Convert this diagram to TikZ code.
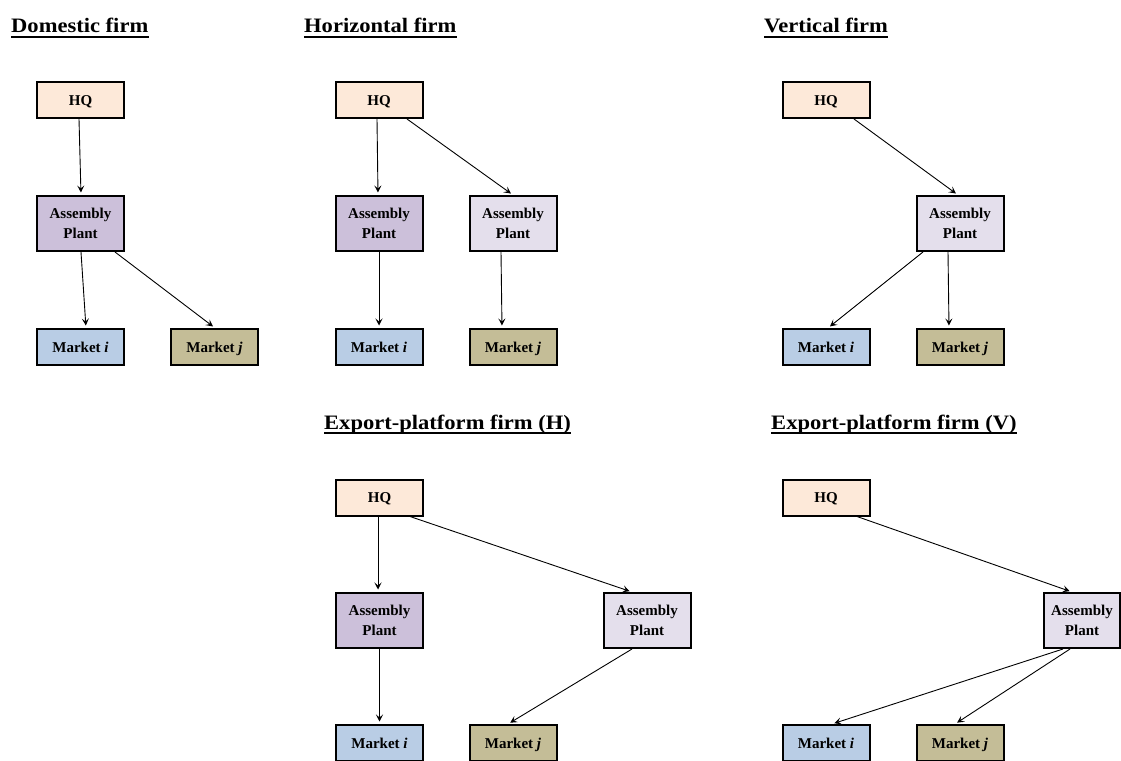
\documentclass[tikz,border=0pt]{standalone}
\usepackage{fontspec}
\setmainfont{Liberation Serif}
\newfontfamily\ttlfont{Liberation Serif}[FakeStretch=1.1]
\usetikzlibrary{arrows.meta}
\definecolor{hqc}{HTML}{FDE9D9}
\definecolor{domc}{HTML}{CCC0DA}
\definecolor{forc}{HTML}{E4DFEC}
\definecolor{mic}{HTML}{B9CDE5}
\definecolor{mjc}{HTML}{C4BD97}
\begin{document}
\begin{tikzpicture}[x=1pt,y=-1pt,
  box/.style={draw, line width=2pt, fill=#1, minimum width=87pt, inner sep=0pt, align=center,
    font=\fontsize{15}{20}\selectfont\bfseries},
  onel/.style={text height=10.3pt, text depth=0pt},
  hqbox/.style={box=hqc, minimum height=36pt, onel},
  dombox/.style={box=domc, minimum height=55pt},
  forbox/.style={box=forc, minimum height=55pt},
  mibox/.style={box=mic, minimum height=36pt, onel},
  mjbox/.style={box=mjc, minimum height=36pt, onel},
  ttl/.style={anchor=base west, inner sep=0pt, font=\ttlfont\fontsize{20.5}{24}\selectfont\bfseries},
  uline/.style={line width=1.6pt},
  arr/.style={-{Stealth[length=7pt,width=7pt,inset=3pt]}, line width=0.9pt, shorten >=2.5pt}]
\useasboundingbox (0,0) rectangle (1121,760);

% ---------- titles ----------
\node[ttl] (t1) at (11,33) {Domestic firm};
\node[ttl] (t2) at (304,33) {Horizontal firm};
\node[ttl] (t3) at (764,33) {Vertical firm};
\node[ttl] (t4) at (324,429) {Export-platform firm (H)};
\node[ttl] (t5) at (771,429) {Export-platform firm (V)};
\foreach \t in {t1,t2,t3,t4,t5}
  \draw[uline] ([yshift=-4pt]\t.base west) -- ([yshift=-4pt]\t.base east);

% ---------- Domestic firm ----------
\node[hqbox]  (dhq) at (80.5,100) {HQ};
\node[dombox] (da)  at (80.5,223.5) {Assembly\\Plant};
\node[mibox]  (dmi) at (80.5,347) {Market \textit{i}};
\node[mjbox]  (dmj) at (214.5,347) {Market \textit{j}};
\draw[arr] ([xshift=-1.5pt]dhq.south) -- ([xshift=0.5pt]da.north);
\draw[arr] ([xshift=0.5pt]da.south) -- ([xshift=5.5pt]dmi.north);
\draw[arr] ([xshift=34.5pt]da.south) -- ([xshift=0.5pt]dmj.north);

% ---------- Horizontal firm ----------
\node[hqbox]  (hhq) at (379,100) {HQ};
\node[dombox] (ha1) at (379,223.5) {Assembly\\Plant};
\node[forbox] (ha2) at (513,223.5) {Assembly\\Plant};
\node[mibox]  (hmi) at (379,347) {Market \textit{i}};
\node[mjbox]  (hmj) at (513,347) {Market \textit{j}};
\draw[arr] ([xshift=-2pt]hhq.south) -- ([xshift=-1pt]ha1.north);
\draw[arr] ([xshift=28pt]hhq.south) -- (ha2.north);
\draw[arr] (ha1.south) -- (hmi.north);
\draw[arr] ([xshift=-12pt]ha2.south) -- ([xshift=-11pt]hmj.north);

% ---------- Vertical firm ----------
\node[hqbox]  (vhq) at (826,100) {HQ};
\node[forbox] (va)  at (960,223.5) {Assembly\\Plant};
\node[mibox]  (vmi) at (826,347) {Market \textit{i}};
\node[mjbox]  (vmj) at (960,347) {Market \textit{j}};
\draw[arr] ([xshift=28pt]vhq.south) -- ([xshift=-2pt]va.north);
\draw[arr] ([xshift=-37pt]va.south) -- ([xshift=2pt]vmi.north);
\draw[arr] ([xshift=-12pt]va.south) -- ([xshift=-11pt]vmj.north);

% ---------- Export-platform firm (H) ----------
\node[hqbox]  (ehq) at (379.5,497.5) {HQ};
\node[dombox] (ea1) at (379.5,620.5) {Assembly\\Plant};
\node[forbox] (ea2) at (647,620.5) {Assembly\\Plant};
\node[mibox]  (emi) at (379.5,743) {Market \textit{i}};
\node[mjbox]  (emj) at (513,743) {Market \textit{j}};
\draw[arr] ([xshift=-1.5pt]ehq.south) -- ([xshift=-1.5pt]ea1.north);
\draw[arr] ([xshift=30.5pt]ehq.south) -- ([xshift=-15pt]ea2.north);
\draw[arr] (ea1.south) -- (emi.north);
\draw[arr] ([xshift=-15pt]ea2.south) -- ([xshift=-5pt]emj.north);

% ---------- Export-platform firm (V) ----------
\node[hqbox]  (xhq) at (826,497.5) {HQ};
\node[forbox, minimum width=76pt] (xa) at (1082,620.5) {Assembly\\Plant};
\node[mibox]  (xmi) at (826,743) {Market \textit{i}};
\node[mjbox]  (xmj) at (960,743) {Market \textit{j}};
\draw[arr] ([xshift=31pt]xhq.south) -- ([xshift=-10pt]xa.north);
\draw[arr] ([xshift=-19pt]xa.south) -- ([xshift=6pt]xmi.north);
\draw[arr] ([xshift=-12pt]xa.south) -- ([xshift=-5pt]xmj.north);
\end{tikzpicture}
\end{document}
